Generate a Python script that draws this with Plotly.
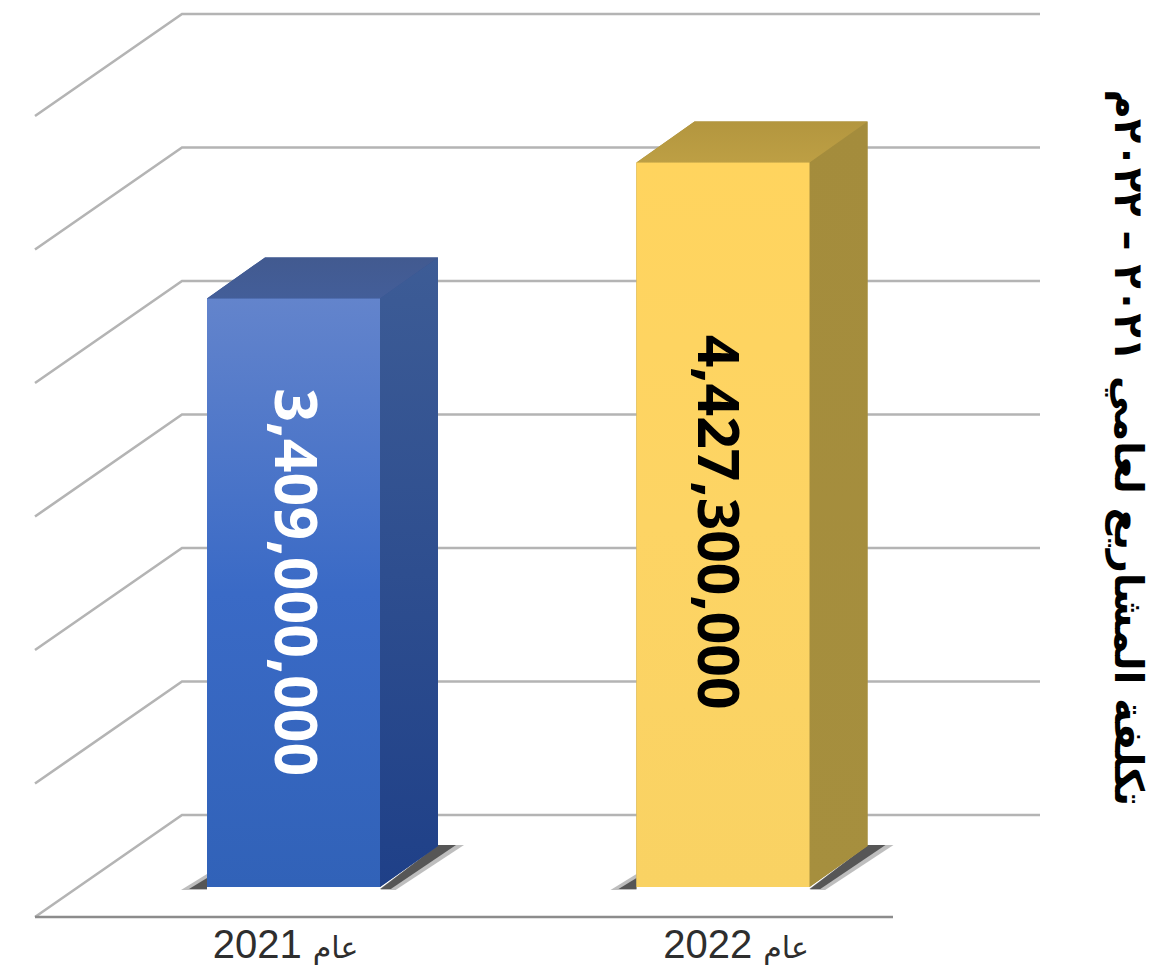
import plotly.graph_objects as go

# ---- data ----
CATEGORIES = ["2021 عام", "2022 عام"]
VALUES = [3409000000, 4427300000]
VALUE_LABELS = ["3,409,000,000", "4,427,300,000"]
AXIS_MIN = -1000000000
GRID_VALUES = [-1000000000, 0, 1000000000, 2000000000, 3000000000, 4000000000, 5000000000]
TITLE = "تكلفة المشاريع لعامي ٢٠٢١ – ٢٠٢٢م"

# ---- scale: figure pixels <-> axis units ----
W, H, MB = 1167, 965, 40
PX_PER_CAT = 429.5
PX_PER_UNIT = 133.5 / 1e9
X0_PX = 293.5      # pixel of category 0
Y0_PX = 887.0      # pixel of AXIS_MIN at the bar plane


def dx(px):
    return px / PX_PER_CAT


def dy(px):
    return px / PX_PER_UNIT


x_range = [-X0_PX / PX_PER_CAT, (W - X0_PX) / PX_PER_CAT]
y_range = [AXIS_MIN - dy(H - MB - Y0_PX), AXIS_MIN + dy(Y0_PX)]

# 3-D geometry in axis units
HALF = dx(86.5)
BAR_DX, BAR_DY = dx(58), dy(41)
WALL_X0, WALL_X1 = dx(182 - X0_PX), dx(1040 - X0_PX)
WALL_DY = dy(72)
FLOOR_X0, FLOOR_X1 = dx(35 - X0_PX), dx(893 - X0_PX)
FLOOR_DY = dy(-30)

STYLES = [
    dict(front=["#3162b8", "#3a6ac6", "#6384cc"], top=["#435e99", "#425a90"],
         side=["#1f4088", "#3d5c96"], bar="#3a6ac6", under="#314f90"),
    dict(front=["#f9d263", "#fdd464", "#ffd45e"], top=["#bd9f44", "#b3963f"],
         side=["#a68f3e", "#a48c3c"], bar="#fdd464", under="#a88f3e"),
]

fig = go.Figure()


def poly(xs, ys, fill=None, grad=None):
    kw = dict(fillcolor=fill) if fill else dict(
        fillgradient=dict(type="vertical", colorscale=grad))
    fig.add_trace(go.Scatter(x=xs + xs[:1], y=ys + ys[:1], mode="lines", fill="toself",
                             line=dict(width=0), hoverinfo="skip", showlegend=False, **kw))


def stops(cols):
    n = len(cols) - 1
    return [[i / n, c] for i, c in enumerate(cols)]


# back wall grid and floor
for g in GRID_VALUES:
    back = g + WALL_DY
    fig.add_trace(go.Scatter(x=[FLOOR_X0, WALL_X0, WALL_X1],
                             y=[g + FLOOR_DY, back, back], mode="lines",
                             line=dict(color="#b4b4b4", width=2.6),
                             hoverinfo="skip", showlegend=False))
fig.add_trace(go.Scatter(x=[FLOOR_X0, FLOOR_X1], y=[AXIS_MIN + FLOOR_DY] * 2, mode="lines",
                         line=dict(color="#8c8c8c", width=2.6), hoverinfo="skip", showlegend=False))

# bars: the library's bar trace draws the front plane, polygons add the extrusion
fig.add_trace(go.Bar(x=[0, 1], y=[v - AXIS_MIN for v in VALUES], base=AXIS_MIN,
                     width=2 * HALF, marker=dict(color=[s["bar"] for s in STYLES], line=dict(width=0)),
                     hoverinfo="skip", showlegend=False))

SHADOW_LAYERS = [(26, 3, "rgba(110,110,110,0.45)"), (18, 2, "rgba(60,60,60,0.80)")]

for i, (v, s) in enumerate(zip(VALUES, STYLES)):
    xl, xr = i - HALF, i + HALF
    # floor shadows, soft edge built from nested layers
    for w, d, col in SHADOW_LAYERS:
        poly([xl - dx(w), xl, xl], [AXIS_MIN - dy(d), AXIS_MIN + dy(w * 0.5), AXIS_MIN - dy(d)], fill=col)
        poly([xr, xr + BAR_DX, xr + BAR_DX + dx(w), xr + dx(w * 0.6)],
             [AXIS_MIN - dy(d), AXIS_MIN + BAR_DY + dy(1), AXIS_MIN + BAR_DY + dy(1), AXIS_MIN - dy(d)], fill=col)
    # solid silhouette below the faces so that no seam shows between them
    poly([xl, xr, xr + BAR_DX, xr + BAR_DX, xl + BAR_DX, xl],
         [AXIS_MIN, AXIS_MIN, AXIS_MIN + BAR_DY, v + BAR_DY, v + BAR_DY, v], fill=s["under"])
    # side and top
    poly([xr, xr + BAR_DX, xr + BAR_DX, xr], [AXIS_MIN, AXIS_MIN + BAR_DY, v + BAR_DY, v],
         grad=stops(s["side"]))
    poly([xl, xr, xr + BAR_DX, xl + BAR_DX], [v, v, v + BAR_DY, v + BAR_DY], grad=stops(s["top"]))
    # front face gradient
    poly([xl, xr, xr, xl], [AXIS_MIN, AXIS_MIN, v, v], grad=stops(s["front"]))

# value labels
LABEL_COLORS = ["white", "black"]
LABEL_SIZES = [59, 57]
LABEL_SHIFT_X = [5, -3]
LABEL_SHIFT_Y = [11, 3]
for i, (v, t) in enumerate(zip(VALUES, VALUE_LABELS)):
    fig.add_annotation(x=i + dx(LABEL_SHIFT_X[i]),
                       y=(v + AXIS_MIN) / 2 + dy(LABEL_SHIFT_Y[i]),
                       text=t, textangle=90, showarrow=False,
                       font=dict(family="Noto Sans", size=LABEL_SIZES[i], color=LABEL_COLORS[i], weight=700))

fig.add_annotation(xref="paper", yref="paper", x=1153 / W, y=1 - 447 / (H - MB), text=TITLE,
                   textangle=90, showarrow=False, yanchor="middle",
                   font=dict(family="DejaVu Sans", size=40, color="black", weight=700))

tick_text = []
for c in CATEGORIES:
    year, word = c.split(" ")
    tick_text.append(f'<span style="font-size:40px">{year}</span> <span style="font-size:30px">{word}</span>')

fig.update_xaxes(range=x_range, tickmode="array", tickvals=[0 - dx(8), 1 + dx(13)], ticktext=tick_text,
                 showgrid=False, zeroline=False, showline=False, ticks="", automargin=False,
                 ticklabelstandoff=-8,
                 tickfont=dict(family="Liberation Sans, DejaVu Sans", size=40, color="#2e2e2e"))
fig.update_yaxes(range=y_range, showgrid=False, zeroline=False, showline=False,
                 showticklabels=False, ticks="", automargin=False)
fig.update_layout(width=W, height=H, margin=dict(l=0, r=0, t=0, b=MB),
                  paper_bgcolor="white", plot_bgcolor="white", showlegend=False)

fig.write_html("out.html", config=dict(displayModeBar=False),
               post_script="document.body.style.margin='0';document.body.style.overflow='hidden';")
